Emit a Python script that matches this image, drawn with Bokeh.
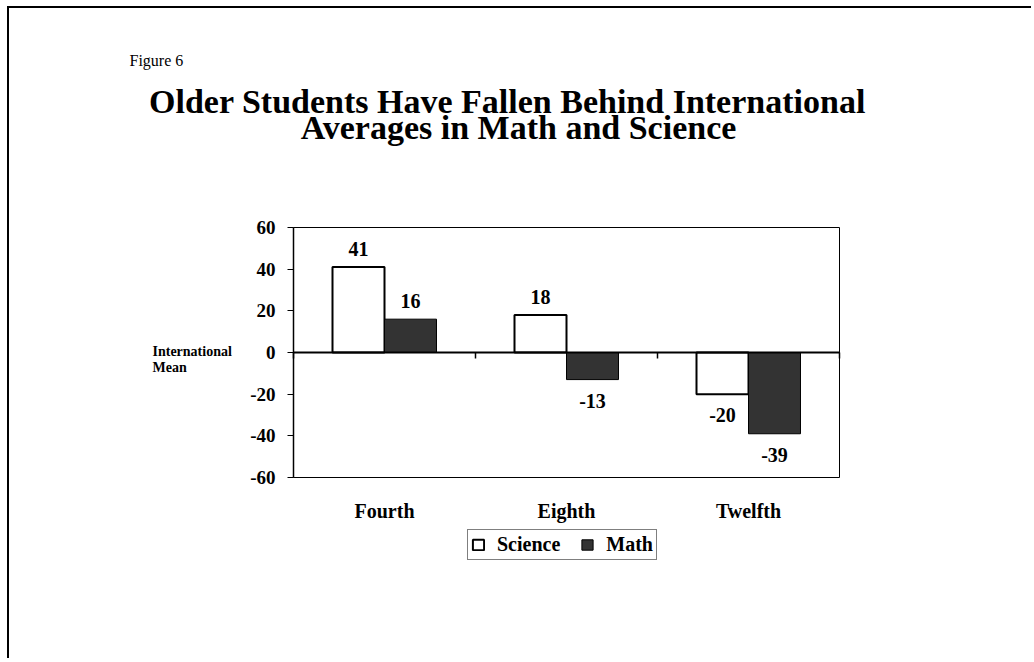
from bokeh.plotting import figure
from bokeh.models import (Range1d, FixedTicker, Label, LabelSet, Legend, LegendItem,
                          ColumnDataSource)
from bokeh.core.properties import value
from bokeh.embed import file_html
from bokeh.resources import INLINE

categories = ["Fourth", "Eighth", "Twelfth"]
science = [41, 18, -20]
math_scores = [16, -13, -39]
y_ticks = [-60, -40, -20, 0, 20, 40, 60]

FONT = "Liberation Serif"
BW = 0.2857  # bar width as a fraction of a category slot

centers = [i + 0.5 for i in range(len(categories))]
src = ColumnDataSource(dict(
    cat=categories,
    sci_x=[c - BW / 2 for c in centers],
    math_x=[c + BW / 2 for c in centers],
    science=science,
    math=math_scores,
    sci_lbl=[str(v) for v in science],
    math_lbl=[str(v) for v in math_scores],
    sci_off=[18 if v >= 0 else -21 for v in science],
    math_off=[18 if v >= 0 else -21 for v in math_scores],
))

# canvas starts at page (9, 8); frame spans page x 69..1033, y 8..600
# category slot = 182 px, 1 value unit = 250/120 px, y axis at page x 293, value 0 at page y 352
PX_CAT = 182.0
PX_VAL = 250.0 / 120.0
x_range = Range1d((69 - 293) / PX_CAT, (1033 - 293) / PX_CAT)
y_range = Range1d(-60 - (600 - 477) / PX_VAL, 60 + (227 - 8) / PX_VAL)

p = figure(x_range=x_range, y_range=y_range, title=None,
           width=1024, height=652, output_backend="svg", toolbar_location=None,
           min_border=0, min_border_left=60, min_border_right=0, min_border_top=0,
           min_border_bottom=60)
p.styles = {"margin-left": "7px", "margin-top": "6px",
            "border-left": "2px solid black", "border-top": "2px solid black"}
p.background_fill_color = "white"
p.border_fill_color = "white"
p.outline_line_color = None
p.xgrid.grid_line_color = None
p.ygrid.grid_line_color = None

n = len(categories)
# plot-area box
p.quad(left=0, right=n, bottom=y_ticks[0], top=y_ticks[-1], fill_color=None,
       line_color="black", line_width=1)

r_sci = p.vbar(x="sci_x", top="science", bottom=0, width=BW, source=src,
               fill_color="white", line_color="black", line_width=2)
r_math = p.vbar(x="math_x", top="math", bottom=0, width=BW, source=src,
                fill_color="#333333", line_color="black", line_width=1)

# category axis line at 0 with boundary ticks
p.segment(x0=[0], y0=[0], x1=[n], y1=[0], line_color="black", line_width=2)
p.segment(x0=list(range(n + 1)), y0=[0] * (n + 1), x1=list(range(n + 1)),
          y1=[-6 / PX_VAL] * (n + 1), line_color="black", line_width=1.5)

for xcol, col, lbl, off in (("sci_x", "science", "sci_lbl", "sci_off"),
                            ("math_x", "math", "math_lbl", "math_off")):
    p.add_layout(LabelSet(x=xcol, y=col, text=lbl, y_offset=off, source=src,
                          text_align="center", text_baseline="middle",
                          text_font=value(FONT), text_font_size=value("20px"),
                          text_font_style=value("bold"), text_color="black"))

# y axis, drawn at the left edge of the category area
yax = p.yaxis[0]
yax.fixed_location = 0
yax.bounds = (y_ticks[0], y_ticks[-1])
yax.ticker = FixedTicker(ticks=y_ticks)
yax.major_label_overrides = {t: str(t) for t in y_ticks}
yax.minor_tick_line_color = None
yax.major_tick_in = 0
yax.major_tick_out = 6
yax.major_label_standoff = 12
yax.axis_line_color = "black"
yax.axis_line_width = 1.5
yax.major_label_text_font = FONT
yax.major_label_text_font_size = "19px"
yax.major_label_text_font_style = "bold"
yax.major_label_text_color = "black"

# x axis: category names below the plot area
xax = p.xaxis[0]
xax.fixed_location = y_ticks[0]
xax.ticker = FixedTicker(ticks=centers)
xax.major_label_overrides = {c: name for c, name in zip(centers, categories)}
xax.minor_tick_line_color = None
xax.axis_line_color = None
xax.major_tick_line_color = None
xax.major_tick_out = 0
xax.major_tick_in = 0
xax.major_label_standoff = 22
xax.major_label_text_font = FONT
xax.major_label_text_font_size = "20px"
xax.major_label_text_font_style = "bold"
xax.major_label_text_color = "black"


# texts, in px relative to the frame (x from its left, y up from its bottom)
def add_label(text, x, y, size, style="bold", align="left"):
    p.add_layout(Label(x=x, y=y, x_units="screen", y_units="screen", text=text,
                       text_font=FONT, text_font_size=size, text_font_style=style,
                       text_align=align, text_baseline="alphabetic", text_color="black"))


add_label("Figure 6", 60, 540, "16px", style="normal")
add_label("Older Students Have Fallen Behind International", 438, 499, "34px", align="center")
add_label("Averages in Math and Science", 449, 473, "34px", align="center")
add_label("International", 83, 249, "14px")
add_label("Mean", 83, 233, "14px")

legend = Legend(items=[LegendItem(label="Science", renderers=[r_sci]),
                       LegendItem(label="Math", renderers=[r_math])],
                location=(398, 40), orientation="horizontal",
                padding=3, spacing=20, margin=0, label_standoff=12,
                glyph_width=14, glyph_height=13, label_width=20,
                label_text_font=FONT, label_text_font_size="20px",
                label_text_font_style="bold", label_text_color="black",
                border_line_color="black", border_line_width=1.2,
                background_fill_color="white", background_fill_alpha=1)
p.add_layout(legend)

open("out.html", "w").write(file_html(p, INLINE))
